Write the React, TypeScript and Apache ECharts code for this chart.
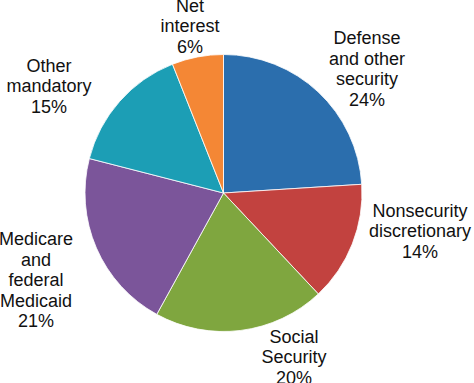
import React, { useEffect, useRef } from "react";
import * as echarts from "echarts";

const categories = [
  "Defense\nand other\nsecurity",
  "Nonsecurity\ndiscretionary",
  "Social\nSecurity",
  "Medicare\nand\nfederal\nMedicaid",
  "Other\nmandatory",
  "Net\ninterest",
];
const values = [24, 14, 20, 21, 15, 6];
const colors = ["#2B6EAD", "#C2423F", "#7FA63F", "#7B559A", "#1C9EB5", "#F48735"];
// label centers (px) for each slice label
const labelPos: [number, number][] = [
  [367, 69],
  [420, 231],
  [294, 357],
  [36, 280],
  [49, 86],
  [190, 26],
];

export default function App() {
  const ref = useRef<HTMLDivElement>(null);
  useEffect(() => {
    if (!ref.current) return;
    const chart = echarts.init(ref.current, undefined, { renderer: "svg" });
    chart.setOption({
      animation: false,
      backgroundColor: "#ffffff",
      series: [
        {
          type: "pie",
          center: [223.5, 193],
          radius: 138.5,
          startAngle: 90,
          clockwise: true,
          data: categories.map((c, i) => ({
            name: c,
            value: values[i],
            itemStyle: { color: colors[i] },
          })),
          itemStyle: { borderColor: "#ffffff", borderWidth: 0.8 },
          label: {
            show: true,
            position: "outside",
            formatter: (p: any) => `${p.name}\n${p.value}%`,
            fontFamily: "Arial, 'Liberation Sans', sans-serif",
            fontSize: 18,
            lineHeight: 20.5,
            color: "#111111",
            align: "center",
            overflow: "none",
            width: 200,
          },
          labelLine: { show: false },
          labelLayout: (params: any) => {
            const [x, y] = labelPos[params.dataIndex];
            return { x, y, align: "center", verticalAlign: "middle" };
          },
          emphasis: { disabled: true },
        },
      ],
    });
    return () => chart.dispose();
  }, []);
  return (
    <div
      ref={ref}
      style={{ position: "absolute", left: 0, top: 0, width: 474, height: 383 }}
    />
  );
}
